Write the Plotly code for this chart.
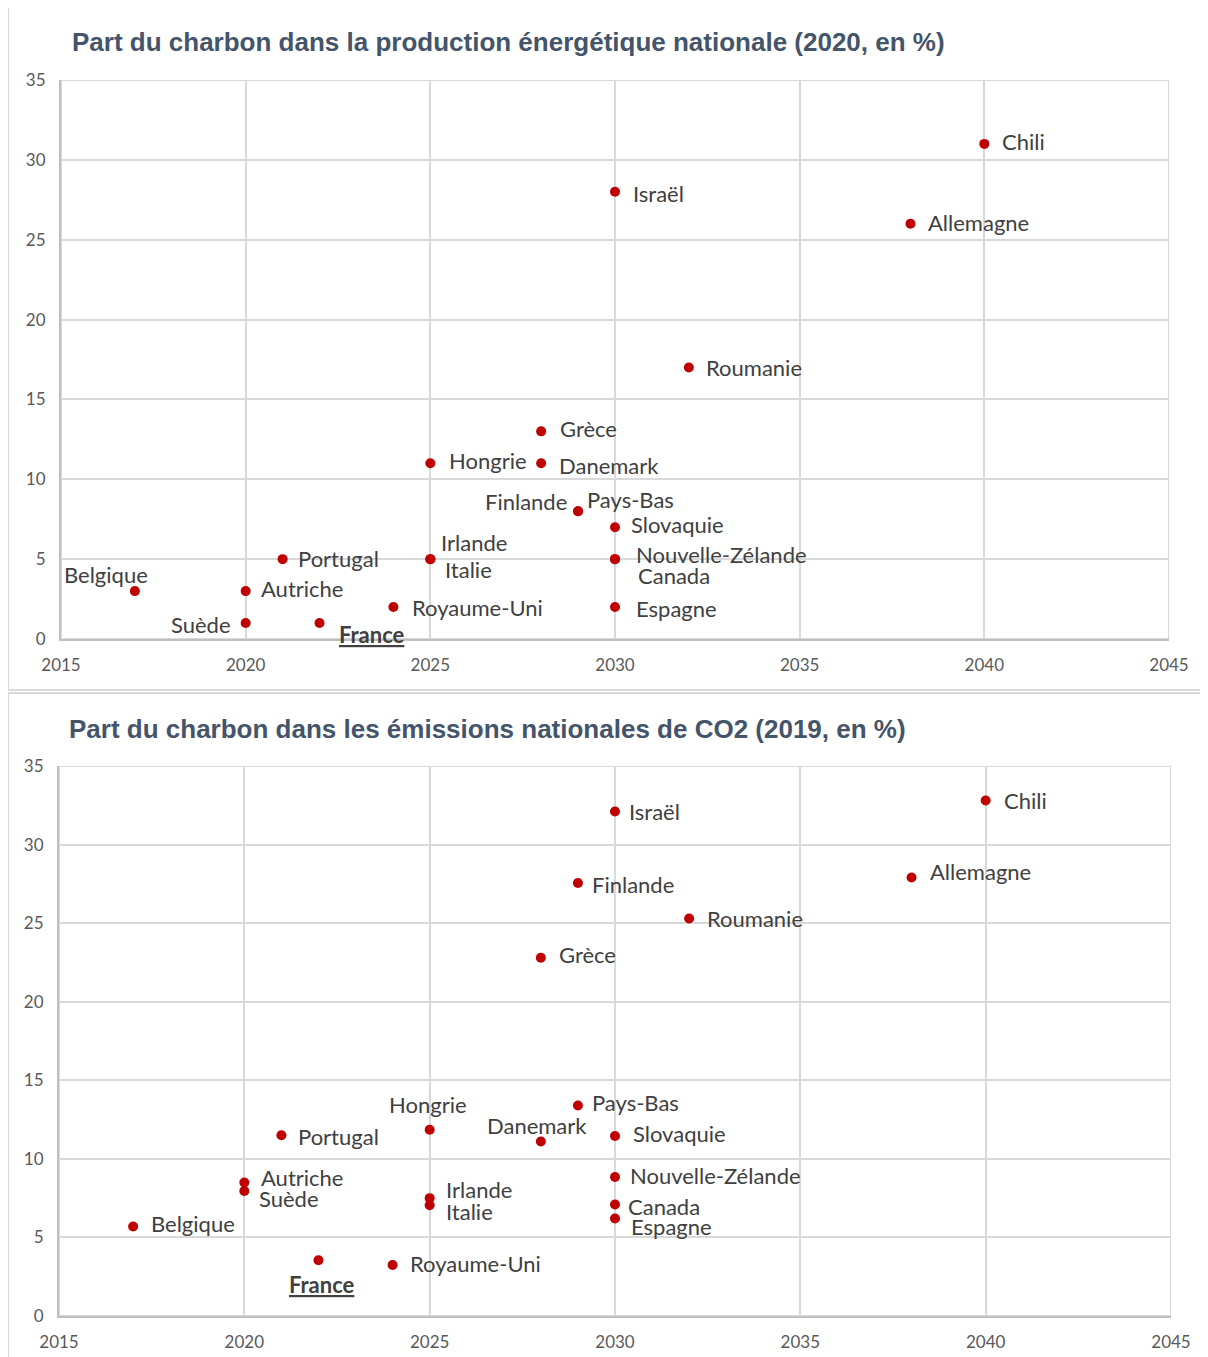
import plotly.graph_objects as go

# --- data ---
pays = ["Belgique", "Suède", "Autriche", "Portugal", "France", "Royaume-Uni",
        "Irlande", "Italie", "Hongrie", "Grèce", "Danemark", "Finlande",
        "Pays-Bas", "Slovaquie", "Nouvelle-Zélande", "Canada", "Espagne",
        "Israël", "Roumanie", "Allemagne", "Chili"]
sortie = [2017, 2020, 2020, 2021, 2022, 2024, 2025, 2025, 2025, 2028, 2028,
          2029, 2029, 2030, 2030, 2030, 2030, 2030, 2032, 2038, 2040]
part_production = [3, 1, 3, 5, 1, 2, 5, 5, 11, 13, 11, 8, 8, 7, 5, 5, 2, 28, 17, 26, 31]
part_emissions = [5.7, 7.95, 8.5, 11.5, 3.55, 3.25, 7.5, 7.05, 11.85, 22.8, 11.1,
                  27.55, 13.4, 11.45, 8.85, 7.1, 6.2, 32.1, 25.3, 27.9, 32.8]

titre_haut = "Part du charbon dans la production énergétique nationale (2020, en %)"
titre_bas = "Part du charbon dans les émissions nationales de CO2 (2019, en %)"

# label placement: (xanchor, xshift, yshift) in pixels
pos_haut = {
    "Belgique": ("center", -29, 17), "Suède": ("right", -13, -1),
    "Autriche": ("left", 13, 3), "Portugal": ("left", 13, 1),
    "France": ("left", 17, -11), "Royaume-Uni": ("left", 17, 0),
    "Irlande": ("left", 9, 17), "Italie": ("left", 13, -10),
    "Hongrie": ("left", 17, 3), "Grèce": ("left", 17, 3),
    "Danemark": ("left", 16, -2), "Finlande": ("right", -9, 10),
    "Pays-Bas": ("left", 7, 12), "Slovaquie": ("left", 14, 3),
    "Nouvelle-Zélande": ("left", 19, 5), "Canada": ("left", 21, -16),
    "Espagne": ("left", 19, -1), "Israël": ("left", 16, -2),
    "Roumanie": ("left", 15, 0), "Allemagne": ("left", 16, 1),
    "Chili": ("left", 16, 2),
}
pos_bas = {
    "Belgique": ("left", 16, 3), "Suède": ("left", 13, -7),
    "Autriche": ("left", 15, 5), "Portugal": ("left", 15, -1),
    "France": ("center", 4, -24), "Royaume-Uni": ("left", 15, 1),
    "Irlande": ("left", 14, 9), "Italie": ("left", 14, -6),
    "Hongrie": ("center", -2, 25), "Grèce": ("left", 16, 3),
    "Danemark": ("center", -4, 16), "Finlande": ("left", 12, -1),
    "Pays-Bas": ("left", 12, 3), "Slovaquie": ("left", 16, 3),
    "Nouvelle-Zélande": ("left", 13, 1), "Canada": ("left", 11, -2),
    "Espagne": ("left", 14, -8), "Israël": ("left", 12, 0),
    "Roumanie": ("left", 16, 0), "Allemagne": ("left", 16, 6),
    "Chili": ("left", 16, 0),
}

W, H = 1208, 1357
OX, OY = 8, 8  # the page body adds an 8px margin around the figure


def px(x):
    return (x - OX) / W


def py(y):
    return 1 - (y - OY) / H


ROUGE = "#C00000"
GRILLE = "#D9D9D9"
TEXTE = "#404040"
label_font = dict(family="Lato", size=22, color=TEXTE)
titre_font = dict(family="Liberation Sans", size=26, color="#44546A")

fig = go.Figure()
fig.add_trace(go.Scatter(x=sortie, y=part_production, mode="markers",
                         marker=dict(color=ROUGE, size=10), xaxis="x", yaxis="y",
                         hoverinfo="text", text=pays))
fig.add_trace(go.Scatter(x=sortie, y=part_emissions, mode="markers",
                         marker=dict(color=ROUGE, size=10), xaxis="x2", yaxis="y2",
                         hoverinfo="text", text=pays))

annotations = []
for (xr, yr, vals, pos) in [("x", "y", part_production, pos_haut),
                            ("x2", "y2", part_emissions, pos_bas)]:
    for nom, x, y in zip(pays, sortie, vals):
        anchor, dx, dy = pos[nom]
        txt = "<b><u>%s</u></b>" % nom if nom == "France" else nom
        annotations.append(dict(x=x, y=y, xref=xr, yref=yr, text=txt, showarrow=False,
                                xanchor=anchor, yanchor="middle", xshift=dx, yshift=dy,
                                font=label_font))

# titles
annotations.append(dict(x=px(70), y=py(42), xref="paper", yref="paper", text="<b>%s</b>" % titre_haut,
                        showarrow=False, xanchor="left", yanchor="middle", font=titre_font))
annotations.append(dict(x=px(67), y=py(729), xref="paper", yref="paper", text="<b>%s</b>" % titre_bas,
                        showarrow=False, xanchor="left", yanchor="middle", font=titre_font))

axe_x = dict(range=[2015, 2045], dtick=5, showgrid=True, gridcolor=GRILLE, gridwidth=2,
             showline=True, linecolor="#BFBFBF", linewidth=2, mirror=False, zeroline=False,
             ticks="", ticklabelstandoff=10, automargin=False,
             tickfont=dict(family="Lato", size=17, color="#595959"))
axe_y = dict(range=[0, 35], dtick=5, showgrid=True, gridcolor=GRILLE, gridwidth=2,
             showline=True, linecolor="#BFBFBF", linewidth=2, mirror=False, zeroline=False,
             ticks="", ticklabelstandoff=10, automargin=False,
             tickfont=dict(family="Lato", size=17, color="#595959"))

fig.update_layout(
    width=W, height=H,
    margin=dict(l=0, r=0, t=0, b=0, autoexpand=False),
    paper_bgcolor="white", plot_bgcolor="white",
    showlegend=False,
    xaxis=dict(axe_x, domain=[px(61), px(1169)], anchor="y"),
    yaxis=dict(axe_y, domain=[py(639), py(80)], anchor="x"),
    xaxis2=dict(axe_x, domain=[px(59), px(1171)], anchor="y2"),
    yaxis2=dict(axe_y, domain=[py(1316), py(766)], anchor="x2"),
    annotations=annotations,
    shapes=[
        # top/right frame lines drawn as grid edges
        dict(type="rect", xref="x", yref="y", x0=2015, x1=2045, y0=0, y1=35,
             line=dict(color=GRILLE, width=2), layer="below"),
        dict(type="rect", xref="x2", yref="y2", x0=2015, x1=2045, y0=0, y1=35,
             line=dict(color=GRILLE, width=2), layer="below"),
        # panel borders
        dict(type="rect", xref="paper", yref="paper", x0=px(8), x1=1.01,
             y0=py(690), y1=py(6), line=dict(color=GRILLE, width=2)),
        dict(type="rect", xref="paper", yref="paper", x0=px(8), x1=1.01,
             y0=-0.01, y1=py(693), line=dict(color=GRILLE, width=2)),
    ],
)

fig.write_html("out.html")
